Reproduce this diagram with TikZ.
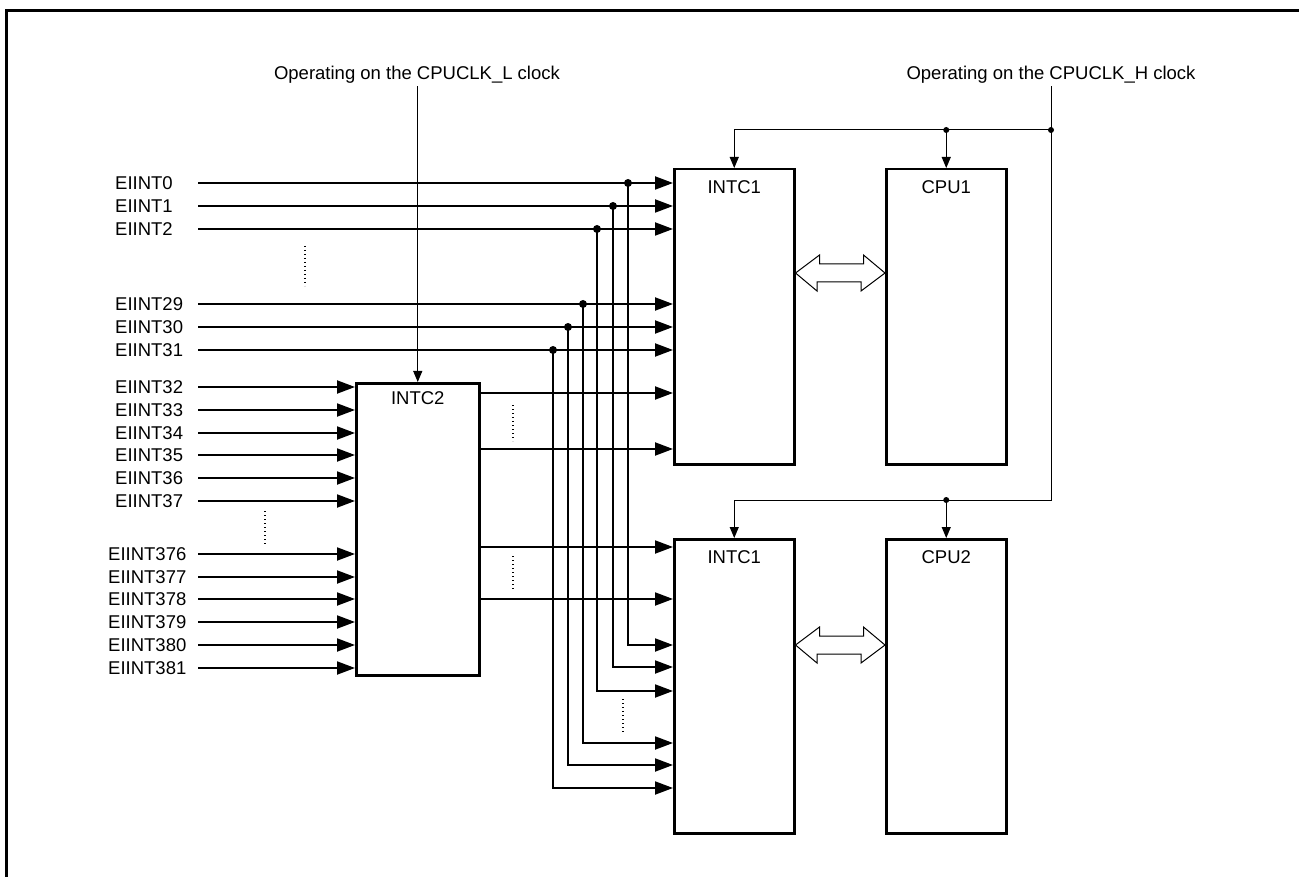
\documentclass[tikz,border=0pt]{standalone}
\usepackage{fontspec}
\setmainfont{Liberation Sans}
\usetikzlibrary{arrows.meta}
\begin{document}
\begin{tikzpicture}[x=1pt,y=-1pt,
  box/.style={draw, line width=2.5pt, minimum width=120pt, inner sep=0pt, anchor=north west},
  sig/.style={line width=2pt, -{Triangle[length=18pt,width=13pt]}},
  clk/.style={line width=1pt, -{Triangle[length=11pt,width=9pt]}},
  cl/.style={line width=1pt},
  jdot/.style={circle, fill, inner sep=0pt, minimum size=8pt},
  lbl/.style={font=\fontsize{18.5}{20}\selectfont, inner sep=0pt},
  ell/.style={line width=1.3pt, dash pattern=on 1.4pt off 2.6pt},
  bus/.style={line width=1pt, fill=white}
]
\useasboundingbox (0,0) rectangle (1299,877);
% frame
\draw[line width=3pt] (6,877) -- (6,11) -- (1299,11);

% boxes
\node[box, minimum height=295pt] (intcA) at (673,168) {};
\node[box, minimum height=295pt] (cpuA) at (885,168) {};
\node[box, minimum height=294pt] (intcB) at (673,538) {};
\node[box, minimum height=294pt] (cpuB) at (885,538) {};
\node[box, minimum width=123pt, minimum height=292pt] (intc2) at (355,382) {};

\node[lbl] (tA) at ([yshift=-19pt]intcA.north) {INTC1};
\node[lbl] (tcA) at ([yshift=-19pt]cpuA.north) {CPU1};
\node[lbl] (tB) at ([yshift=-19pt]intcB.north) {INTC1};
\node[lbl] (tcB) at ([yshift=-19pt]cpuB.north) {CPU2};
\node[lbl] (t2) at ([yshift=-16pt]intc2.north) {INTC2};

% clock labels
\node[lbl, anchor=base] (clkL) at (417,80) {Operating on the CPUCLK\_L clock};
\node[lbl, anchor=base] (clkH) at (1051,80) {Operating on the CPUCLK\_H clock};

% clock L
\draw[clk] ([yshift=-2pt]clkL.south -| intc2.north) -- (intc2.north);

% clock H
\coordinate (hTop) at (1051,130);
\coordinate (hBot) at (1051,500);
\node[jdot, minimum size=6pt] (jh1) at (hTop) {};
\node[jdot, minimum size=6pt] (jc1) at (cpuA.north |- hTop) {};
\node[jdot, minimum size=6pt] (jc2) at (cpuB.north |- hBot) {};
\draw[cl] ([yshift=-2pt]clkH.south -| hTop) -- (hBot) -- (hBot -| intcB.north);
\draw[clk] (hTop) -| (intcA.north);
\draw[clk] (jc1) -- (cpuA.north);
\draw[clk] (hBot -| intcB.north) -- (intcB.north);
\draw[clk] (jc2) -- (cpuB.north);

% direct inputs to INTC1
\foreach \n/\y/\jx/\ty in {0/183/628/645, 1/206/613/667, 2/229/597/691, 29/304/583/743, 30/327/568/765, 31/350/553/788}{
  \node[lbl, anchor=west] (e\n) at (115,\y) {EIINT\n};
  \coordinate (s\n) at (198,\y);
  \draw[sig] (s\n) -- (s\n -| intcA.west);
  \node[jdot] (j\n) at (\jx,\y) {};
  \draw[sig] (j\n.center) |- (intcB.west |- 0,\ty);
}

% inputs to INTC2
\foreach \n/\y/\x in {32/387/115, 33/410/115, 34/433/115, 35/455/115, 36/478/115, 37/501/115,
                      376/554/108, 377/577/108, 378/599/108, 379/622/108, 380/645/108, 381/668/108}{
  \node[lbl, anchor=west] (e\n) at (\x,\y) {EIINT\n};
  \coordinate (s\n) at (198,\y);
  \draw[sig] (s\n) -- (s\n -| intc2.west);
}

% INTC2 outputs
\foreach \y in {393,449}{
  \draw[sig] (intc2.east |- 0,\y) -- (intcA.west |- 0,\y);
}
\foreach \y in {547,599}{
  \draw[sig] (intc2.east |- 0,\y) -- (intcB.west |- 0,\y);
}

% ellipses
\draw[ell] (305,246) -- (305,286);
\draw[ell] (265,511) -- (265,545);
\draw[ell] (513,405) -- (513,441);
\draw[ell] (513,556) -- (513,590);
\draw[ell] (623,699) -- (623,734);

% buses
\foreach \b/\c/\y in {intcA/cpuA/273, intcB/cpuB/645}{
  \draw[bus] (\b.east |- 0,\y) -- ++(24,-18) -- ++(0,9) -- ++(44,0) -- ++(0,-9) -- (\c.west |- 0,\y)
     -- ++(-24,18) -- ++(0,-9) -- ++(-44,0) -- ++(0,9) -- cycle;
}
\end{tikzpicture}
\end{document}
